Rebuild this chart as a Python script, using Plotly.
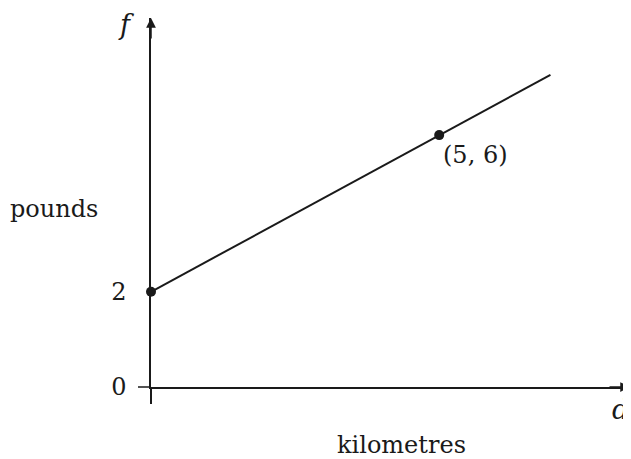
import plotly.graph_objects as go

# schematic graph: cost in pounds (f) against distance in kilometres (d)
line_d = [0, 5, 6.93]
line_f = [2, 6, 7.54]
point_d = [0, 5]
point_f = [2, 6]
point_label = "(5, 6)"

# the "0" tick sits on the horizontal axis (the picture is not to scale)
axis_origin_f = -0.43
tick_vals = [axis_origin_f, 2]
tick_text = ["0", "2"]

x_max = 8.31
y_max = 8.99

INK = "#1a1a1a"
FONT = "DejaVu Serif"

# page body adds an 8px margin, so the figure is drawn 8px smaller
PAGE_PAD = 8
PLOT_L, PLOT_T, PLOT_W, PLOT_H = 151, 18, 479, 369


def paper_xy(px, py):
    # reference pixel -> paper coords of the plot area
    return (px - PLOT_L) / PLOT_W, (PLOT_T + PLOT_H - py) / PLOT_H


fig = go.Figure()

fig.add_trace(go.Scatter(
    x=line_d, y=line_f, mode="lines",
    line=dict(color=INK, width=2), hoverinfo="skip",
))
fig.add_trace(go.Scatter(
    x=point_d, y=point_f, mode="markers",
    marker=dict(size=10, color=INK), cliponaxis=False, hoverinfo="skip",
))

# point label
fig.add_annotation(
    x=point_d[1], y=point_f[1], text=point_label, showarrow=False,
    xanchor="left", yanchor="middle", xshift=2, yshift=-20,
    font=dict(family=FONT, size=24, color=INK),
)

# axis arrows
fig.add_annotation(x=0, y=1, xref="paper", yref="paper", ax=0, ay=22,
                   text="", showarrow=True, arrowhead=2, arrowsize=1.3,
                   arrowwidth=1.5, arrowcolor=INK)
fig.add_annotation(x=1, y=0, xref="paper", yref="paper", ax=-22, ay=0,
                   text="", showarrow=True, arrowhead=2, arrowsize=1.3,
                   arrowwidth=1.5, arrowcolor=INK)

# horizontal axis runs a little past the vertical one
fig.add_shape(type="line", xref="paper", yref="paper",
              x0=-13 / PLOT_W, x1=0, y0=0, y1=0,
              line=dict(color=INK, width=1.5))

# axis letters and titles
labels = [("<i>f</i>", 126, 25, 27), ("<i>d</i>", 620, 409, 27),
          ("pounds", 54, 209, 24), ("kilometres", 401, 445, 24)]
for txt, px, py, size in labels:
    ax_x, ax_y = paper_xy(px, py)
    fig.add_annotation(
        x=ax_x, y=ax_y, xref="paper", yref="paper",
        text=txt, showarrow=False, xanchor="center", yanchor="middle",
        font=dict(family=FONT, size=size, color=INK),
    )

fig.update_layout(
    width=631 - PAGE_PAD, height=459 - PAGE_PAD,
    margin=dict(l=PLOT_L - PAGE_PAD, r=1, t=PLOT_T - PAGE_PAD, b=72),
    paper_bgcolor="white", plot_bgcolor="white",
    showlegend=False,
    xaxis=dict(
        range=[0, x_max], showgrid=False, zeroline=False,
        showline=True, linecolor=INK, linewidth=1.5,
        tickmode="array", tickvals=[0], ticks="outside", ticklen=15,
        tickwidth=1.5, tickcolor=INK, showticklabels=False,
    ),
    yaxis=dict(
        range=[axis_origin_f, y_max], showgrid=False, zeroline=False,
        showline=True, linecolor=INK, linewidth=1.5,
        tickmode="array", tickvals=tick_vals, ticktext=tick_text,
        ticks="", ticklabelstandoff=18,
        tickfont=dict(family=FONT, size=24, color=INK),
    ),
)

fig.write_html("out.html")
